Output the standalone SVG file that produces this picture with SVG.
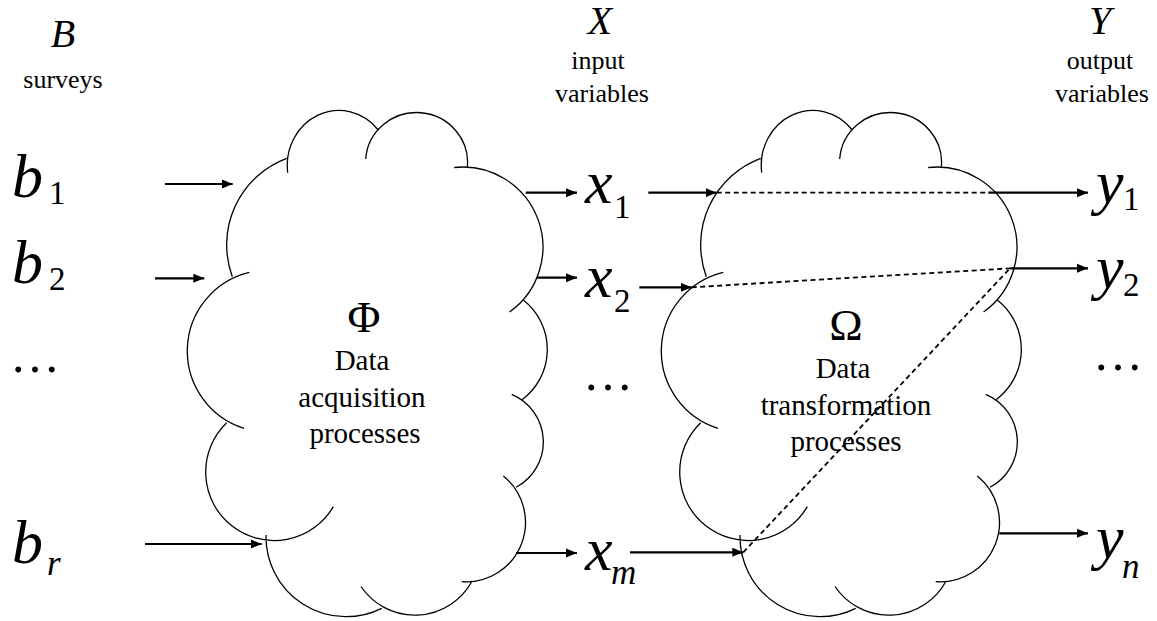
<svg xmlns="http://www.w3.org/2000/svg" width="1157" height="621" viewBox="0 0 1157 621">
  <style>
    text { fill: #000; }
    .var { font-style: italic; font-size: 62px; }
    .sub { font-size: 33px; font-style: normal; }
    .subi { font-style: italic; font-size: 35px; }
    .head { font-style: italic; font-size: 40px; text-anchor: middle; }
    .cap { font-size: 26px; text-anchor: middle; }
    .body { font-size: 29px; text-anchor: middle; }
    .greek { font-size: 45px; text-anchor: middle; }
    .dots { font-size: 50px; }
    .cloud { fill: none; stroke: #000; stroke-width: 1.3; }
    .arrow { fill: none; stroke: #000; stroke-width: 2.2; marker-end: url(#ah); }
    .dash { fill: none; stroke: #000; stroke-width: 1.8; stroke-dasharray: 5 3.5; }
  </style>
  <defs>
    <marker id="ah" markerUnits="userSpaceOnUse" viewBox="0 0 12 10" markerWidth="12" markerHeight="10" refX="11" refY="5" orient="auto">
      <path d="M0,0.5 L11,5 L0,9.5 z" fill="#000"/>
    </marker>
    <!-- cloud outline: eleven bumps, each an arc that runs a little past its neighbour -->
    <path id="cloud" class="cloud" d="
      M287.7,172.7 A51.6,55 0 0 1 378.3,130
      M365.7,159 A51,50 0 1 1 467.3,167.7
      M454.2,167.5 A80,80 0 0 1 509.6,312
      M523.3,300 A62.8,62.8 0 0 1 521.7,400
      M511.7,394.3 A51.5,51.5 0 0 1 516,487.3
      M503.3,476 A59.5,59.5 0 0 1 461.7,581.7
      M471.7,581.7 A65,65 0 0 1 361,586.5
      M381.7,608.3 A80,80 0 0 1 266,535
      M333.3,506.7 A68.5,68.5 0 1 1 226.7,422.7
      M244,428.3 A81,81 0 0 1 249.3,272.3
      M232.3,276.7 A92.5,92.5 0 0 1 286.7,158.3"/>
  </defs>

  <rect width="1157" height="621" fill="#fff"/>

  <g font-family="'Liberation Serif', 'Times New Roman', 'DejaVu Serif', serif">
  <!-- surveys column -->
  <g id="surveys">
    <text class="head" x="63" y="47">B</text>
    <text class="cap" x="63" y="88">surveys</text>
    <text class="var" x="12" y="197">b<tspan class="sub" x="49" y="204">1</tspan></text>
    <text class="var" x="12" y="283">b<tspan class="sub" x="49" y="290">2</tspan></text>
    <text class="dots" x="10" y="372">…</text>
    <text class="var" x="12" y="563">b<tspan class="subi" x="47" y="575">r</tspan></text>
  </g>

  <!-- acquisition processes -->
  <g id="phi">
    <use href="#cloud"/>
    <text class="greek" x="364" y="332">Φ</text>
    <text class="body" x="362" y="370">Data</text>
    <text class="body" x="362" y="407">acquisition</text>
    <text class="body" x="365" y="443">processes</text>
  </g>

  <!-- input variables column -->
  <g id="inputs">
    <text class="head" x="600" y="34">X</text>
    <text class="cap" x="598" y="69">input</text>
    <text class="cap" x="602" y="102">variables</text>
    <text class="var" x="585" y="203">x<tspan class="sub" x="614" y="218">1</tspan></text>
    <text class="var" x="585" y="297">x<tspan class="sub" x="614" y="312">2</tspan></text>
    <text class="dots" x="583" y="390">…</text>
    <text class="var" x="585" y="570">x<tspan class="subi" x="611" y="584">m</tspan></text>
  </g>

  <!-- transformation processes -->
  <g id="omega">
    <use href="#cloud" transform="translate(474 0)"/>
    <text class="greek" x="846" y="340">Ω</text>
    <text class="body" x="843" y="378">Data</text>
    <text class="body" x="846" y="415">transformation</text>
    <text class="body" x="846" y="451">processes</text>
  </g>

  <!-- output variables column -->
  <g id="outputs">
    <text class="head" x="1100" y="34">Y</text>
    <text class="cap" x="1100" y="69">output</text>
    <text class="cap" x="1102" y="102">variables</text>
    <text class="var" x="1096" y="203">y<tspan class="sub" x="1123" y="210">1</tspan></text>
    <text class="var" x="1096" y="288">y<tspan class="sub" x="1123" y="296">2</tspan></text>
    <text class="dots" x="1093" y="370">…</text>
    <text class="var" x="1096" y="558">y<tspan class="subi" x="1122" y="578">n</tspan></text>
  </g>
  </g>

  <!-- connectors -->
  <g id="connectors">
    <line class="arrow" x1="165" y1="184" x2="232.7" y2="184"/>
    <line class="arrow" x1="155" y1="278.3" x2="204.3" y2="278.3"/>
    <line class="arrow" x1="145" y1="544" x2="261.7" y2="544"/>

    <line class="arrow" x1="525.7" y1="192.7" x2="577" y2="192.7"/>
    <line class="arrow" x1="536.7" y1="277.7" x2="577" y2="277.7"/>
    <line class="arrow" x1="516" y1="553" x2="577" y2="553"/>

    <line class="arrow" x1="648.3" y1="192.7" x2="716.7" y2="192.7"/>
    <line class="arrow" x1="639.3" y1="287.3" x2="691.7" y2="287.3"/>
    <line class="arrow" x1="630" y1="552.3" x2="743.3" y2="552.3"/>

    <line class="dash" x1="716.7" y1="192.7" x2="988.3" y2="192.7"/>
    <line class="dash" x1="691.7" y1="287.3" x2="1010" y2="268.3"/>
    <line class="dash" x1="743.3" y1="552.3" x2="1010" y2="268.3"/>

    <line class="arrow" x1="988.3" y1="192.7" x2="1088" y2="192.7"/>
    <line class="arrow" x1="1010" y1="268.3" x2="1088" y2="268.3"/>
    <line class="arrow" x1="999.3" y1="533.3" x2="1088" y2="533.3"/>
  </g>
</svg>
